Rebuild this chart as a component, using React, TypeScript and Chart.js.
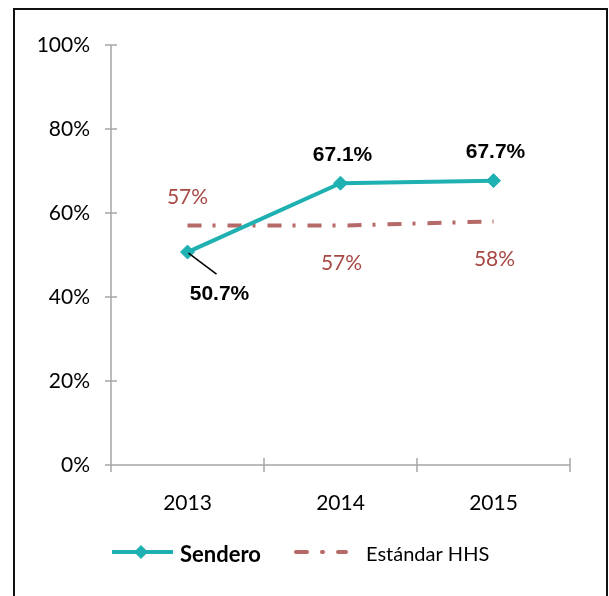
import React, { useEffect, useRef } from "react";
import { Chart, registerables } from "chart.js";

Chart.register(...registerables);

const categories = ["2013", "2014", "2015"];
const senderoValues = [50.7, 67.1, 67.7];
const standardValues = [57, 57, 58];
const senderoLabels = ["50.7%", "67.1%", "67.7%"];
const standardLabels = ["57%", "57%", "58%"];
const yTicks = [0, 20, 40, 60, 80, 100];
const seriesNames = ["Sendero", "Estándar HHS"];

const TEAL = "rgb(31,177,177)";
const RED_LINE = "rgb(181,106,103)";
const RED_TEXT = "rgb(168,72,68)";
const AXIS = "#a6a6a6";

export default function App() {
  const ref = useRef<HTMLCanvasElement | null>(null);

  useEffect(() => {
    const canvas = ref.current;
    if (!canvas) return;

    const axesPlugin = {
      id: "axesPlugin",
      beforeDatasetsDraw(chart: any) {
        const ctx = chart.ctx;
        const { left, right, top, bottom } = chart.chartArea;
        const ys = chart.scales.y;
        ctx.save();
        ctx.strokeStyle = AXIS;
        ctx.lineWidth = 1.5;
        ctx.beginPath();
        ctx.moveTo(left, top);
        ctx.lineTo(left, bottom);
        ctx.moveTo(left, bottom);
        ctx.lineTo(right, bottom);
        yTicks.forEach((v) => {
          const y = ys.getPixelForValue(v);
          ctx.moveTo(left - 6, y);
          ctx.lineTo(left + 6, y);
        });
        const n = categories.length;
        for (let i = 0; i <= n; i++) {
          const x = left + ((right - left) * i) / n;
          ctx.moveTo(x, bottom - 7);
          ctx.lineTo(x, bottom + 7);
        }
        ctx.stroke();
        ctx.restore();
      },
      afterDatasetsDraw(chart: any) {
        const ctx = chart.ctx;
        const m0 = chart.getDatasetMeta(0).data;
        const m1 = chart.getDatasetMeta(1).data;
        ctx.save();
        ctx.textAlign = "center";
        ctx.textBaseline = "middle";
        ctx.fillStyle = "#000";
        ctx.font = "bold 21px 'Liberation Sans', Arial, sans-serif";
        m0.forEach((p: any, i: number) => {
          if (i === 0) {
            ctx.strokeStyle = "#000";
            ctx.lineWidth = 1.5;
            ctx.beginPath();
            ctx.moveTo(p.x + 1, p.y + 1);
            ctx.lineTo(p.x + 29, p.y + 22);
            ctx.stroke();
            ctx.fillText(senderoLabels[i], p.x + 32, p.y + 42);
          } else {
            ctx.fillText(senderoLabels[i], p.x + 2, p.y - 28);
          }
        });
        ctx.fillStyle = RED_TEXT;
        ctx.font = "21px Lato, sans-serif";
        m1.forEach((p: any, i: number) => {
          if (i === 0) {
            ctx.fillText(standardLabels[i], p.x, p.y - 28);
          } else {
            ctx.fillText(standardLabels[i], p.x + 1, p.y + 38);
          }
        });
        ctx.restore();
      },
      afterDraw(chart: any) {
        const ctx = chart.ctx;
        const y = 552;
        ctx.save();
        ctx.strokeStyle = TEAL;
        ctx.lineWidth = 4;
        ctx.beginPath();
        ctx.moveTo(112, y);
        ctx.lineTo(173, y);
        ctx.stroke();
        ctx.fillStyle = TEAL;
        ctx.beginPath();
        ctx.moveTo(141, y - 7);
        ctx.lineTo(148, y);
        ctx.lineTo(141, y + 7);
        ctx.lineTo(134, y);
        ctx.closePath();
        ctx.fill();
        ctx.fillStyle = "#000";
        ctx.textBaseline = "middle";
        ctx.textAlign = "left";
        ctx.font = "bold 22px Lato, sans-serif";
        ctx.fillText(seriesNames[0], 180, y + 3);
        ctx.strokeStyle = RED_LINE;
        ctx.lineWidth = 4;
        ctx.lineCap = "round";
        ctx.setLineDash([11, 15, 1, 15]);
        ctx.beginPath();
        ctx.moveTo(296, y);
        ctx.lineTo(346, y);
        ctx.stroke();
        ctx.setLineDash([]);
        ctx.font = "20px Lato, sans-serif";
        ctx.fillText(seriesNames[1], 366, y + 3);
        ctx.restore();
      },
    };

    const chart = new Chart(canvas, {
      type: "line",
      data: {
        labels: categories,
        datasets: [
          {
            label: seriesNames[0],
            data: senderoValues,
            borderColor: TEAL,
            backgroundColor: TEAL,
            borderWidth: 4,
            pointStyle: "rectRot",
            pointRadius: 7,
            pointBorderWidth: 1,
            pointBackgroundColor: TEAL,
            pointBorderColor: TEAL,
            tension: 0,
          },
          {
            label: seriesNames[1],
            data: standardValues,
            borderColor: RED_LINE,
            backgroundColor: RED_LINE,
            borderWidth: 4,
            borderDash: [14, 11, 3, 12],
            pointRadius: 0,
            tension: 0,
          },
        ],
      },
      options: {
        responsive: false,
        animation: false,
        devicePixelRatio: 1,
        layout: { padding: { left: 0, right: 39, top: 45, bottom: 0 } },
        plugins: {
          legend: { display: false },
          tooltip: { enabled: false },
        },
        scales: {
          x: {
            type: "category",
            offset: true,
            grid: { display: false, drawTicks: false },
            border: { display: false },
            ticks: {
              color: "#000",
              font: { family: "Lato, sans-serif", size: 21 },
              padding: 26,
              maxRotation: 0,
            },
            afterFit: (s: any) => {
              s.height = 131;
            },
          },
          y: {
            min: 0,
            max: 100,
            grid: { display: false, drawTicks: false },
            border: { display: false },
            ticks: {
              stepSize: 20,
              color: "#000",
              font: { family: "Lato, sans-serif", size: 21 },
              padding: 21,
              callback: (v: any) => v + "%",
            },
            afterFit: (s: any) => {
              s.width = 111;
            },
          },
        },
      },
      plugins: [axesPlugin],
    });

    return () => chart.destroy();
  }, []);

  return (
    <>
      <div
        style={{
          position: "absolute",
          left: 13,
          top: 8,
          width: 595,
          height: 640,
          border: "2px solid #111",
          boxSizing: "border-box",
        }}
      />
      <canvas
        ref={ref}
        width={609}
        height={596}
        style={{ position: "absolute", left: 0, top: 0, width: 609, height: 596 }}
      />
    </>
  );
}
